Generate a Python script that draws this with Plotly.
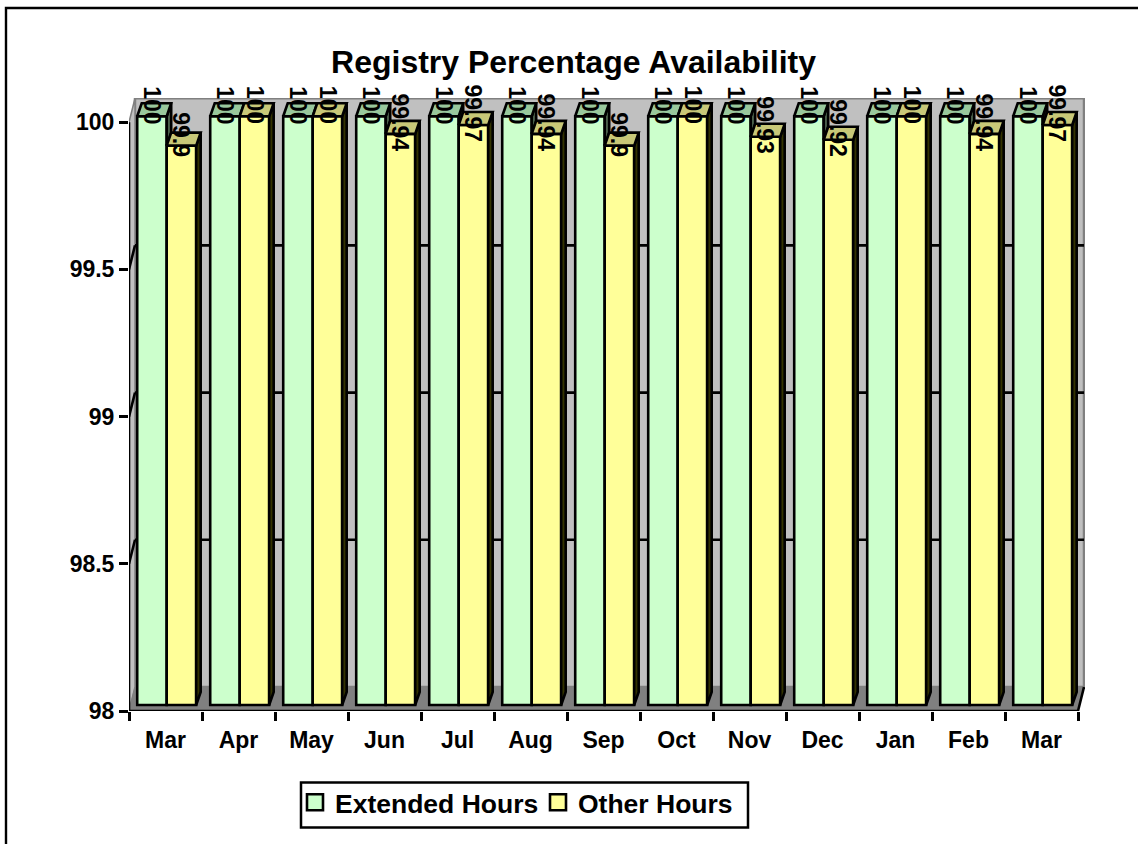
import plotly.graph_objects as go

months = ["Mar", "Apr", "May", "Jun", "Jul", "Aug", "Sep", "Oct", "Nov", "Dec", "Jan", "Feb", "Mar"]
extended_hours = [100, 100, 100, 100, 100, 100, 100, 100, 100, 100, 100, 100, 100]
other_hours = [99.9, 100, 100, 99.94, 99.97, 99.94, 99.9, 100, 99.93, 99.92, 100, 99.94, 99.97]
y_ticks = [98, 98.5, 99, 99.5, 100]

FONT = "Liberation Sans, Arial, sans-serif"
W, H = 1138, 844
L, R, T, B = 129, 1085, 98, 711
PX_X = 73.0          # pixels per category
PX_Y = 294.4         # pixels per y unit
Y0 = 98.0
XMAX = (R - L) / PX_X
YMAX = Y0 + (B - T) / PX_Y
N = len(months)

wall_dx, wall_dy = 6 / PX_X, 24 / PX_Y     # depth of the box
lift = 6 / PX_Y                            # bars stand part way into the floor
bar_dx, bar_dy = 4.5 / PX_X, 13 / PX_Y     # depth of each bar
shift = 1.2 / PX_X
bargap = 0.192
bar_w = (1 - bargap) / 2

LINE = 2.6
GREEN, YELLOW = "#CCFFCC", "#FFFF99"
GREEN_TOP, YELLOW_TOP = "#99C89C", "#C8C878"
GREEN_SIDE, YELLOW_SIDE = "#4A5F4A", "#333300"
WALL, EDGE = "#C0C0C0", "#808080"

centers = [i + 0.5 + shift for i in range(N)]
fig = go.Figure()

for name, vals, col, off in [("Extended Hours", extended_hours, GREEN, -bar_w / 2),
                             ("Other Hours", other_hours, YELLOW, bar_w / 2)]:
    fig.add_bar(x=[c + off for c in centers], y=[v - Y0 for v in vals], base=Y0 + lift,
                width=bar_w, name=name, customdata=vals, hovertemplate="%{customdata}<extra>" + name + "</extra>",
                legendgroup=name, showlegend=False,
                marker=dict(color=col, line=dict(color="black", width=LINE)))
    # legend swatch only: bar swatches have a fixed, smaller size
    fig.add_scatter(x=[None], y=[None], mode="markers", name=name, legendgroup=name, showlegend=True,
                    marker=dict(symbol="square", size=16, color=col, line=dict(color="black", width=LINE)))


def poly_trace(polys, color):
    xs, ys = [], []
    for p in polys:
        xs += [q[0] for q in p] + [p[0][0], None]
        ys += [q[1] for q in p] + [p[0][1], None]
    fig.add_scatter(x=xs, y=ys, mode="lines", fill="toself", fillcolor=color, showlegend=False,
                    hoverinfo="skip", line=dict(color="black", width=LINE, shape="linear"))


def top_face(xl, v):
    t = v + lift
    return [(xl, t), (xl + bar_dx, t + bar_dy), (xl + bar_w + bar_dx, t + bar_dy), (xl + bar_w, t)]


def side_face(xr, v, low):
    t, b = v + lift, low + lift
    return [(xr, t), (xr + bar_dx, t + bar_dy), (xr + bar_dx, b + bar_dy), (xr, b)]


green_sides = [side_face(c, g, o) for c, g, o in zip(centers, extended_hours, other_hours)]
green_tops = [top_face(c - bar_w, g) for c, g in zip(centers, extended_hours)]
yellow_sides = [side_face(c + bar_w, o, Y0) for c, o in zip(centers, other_hours)]
yellow_tops = [top_face(c, o) for c, o in zip(centers, other_hours)]
poly_trace(green_sides, GREEN_SIDE)
poly_trace(green_tops, GREEN_TOP)
poly_trace(yellow_sides, YELLOW_SIDE)
poly_trace(yellow_tops, YELLOW_TOP)

shapes = []


def poly_shape(pts, fill, color, width, layer="below"):
    path = "M" + " L".join(f"{x},{y}" for x, y in pts) + " Z"
    shapes.append(dict(type="path", path=path, xref="x", yref="y", fillcolor=fill,
                       line=dict(color=color, width=width), layer=layer))


def line_shape(x0, y0, x1, y1, color="black", width=LINE, layer="below"):
    shapes.append(dict(type="line", x0=x0, y0=y0, x1=x1, y1=y1, xref="x", yref="y",
                       line=dict(color=color, width=width), layer=layer))


def px_x(p):
    return (p - L) / (R - L)


def px_y(p):
    return (B - p) / (B - T)


# back wall, side wall, floor
top = y_ticks[-1]
poly_shape([(wall_dx, Y0 + wall_dy), (wall_dx, top + wall_dy), (N + wall_dx, top + wall_dy), (N + wall_dx, Y0 + wall_dy)],
           WALL, EDGE, 2.5)
poly_shape([(0, Y0), (0, top), (wall_dx, top + wall_dy), (wall_dx, Y0 + wall_dy)], WALL, EDGE, 1.5)
poly_shape([(0, Y0), (wall_dx, Y0 + wall_dy), (N + wall_dx, Y0 + wall_dy), (N, Y0)], EDGE, EDGE, 1)

# grid lines on the back wall and their returns on the side wall
for v in y_ticks[1:-1]:
    line_shape(wall_dx, v + wall_dy, N + wall_dx, v + wall_dy)
    line_shape(0, v, wall_dx, v + wall_dy)
line_shape(N, Y0, N + wall_dx, Y0 + wall_dy)

# axis lines
line_shape(0, Y0, 0, top, layer="above")
line_shape(0, Y0, N, Y0, layer="above")

# page frame
shapes.append(dict(type="path", xref="paper", yref="paper", layer="below", line=dict(color="black", width=2.4),
                   path=f"M {px_x(6)},{px_y(850)} L {px_x(6)},{px_y(8)} L {px_x(1145)},{px_y(8)}"))
# legend box
shapes.append(dict(type="rect", xref="paper", yref="paper", layer="below", fillcolor="white",
                   line=dict(color="black", width=2.5),
                   x0=px_x(301), x1=px_x(748), y0=px_y(827.5), y1=px_y(782.5)))

annotations = []
for c, g, o in zip(centers, extended_hours, other_hours):
    for xc, v in [(c - bar_w / 2, g), (c + bar_w / 2, o)]:
        annotations.append(dict(x=xc, y=v + lift, xref="x", yref="y", text=f"{v:g}", textangle=90, showarrow=False,
                                yshift=11, font=dict(family=FONT, size=23, color="black", weight=700)))

fig.update_layout(
    width=W, height=H, autosize=False,
    margin=dict(l=L, r=W - R, t=T, b=H - B, pad=0),
    paper_bgcolor="white", plot_bgcolor="rgba(0,0,0,0)",
    barmode="overlay", showlegend=True,
    title=dict(text="Registry Percentage Availability", x=573.5 / W, xref="container", xanchor="center",
               y=1 - 62 / H, yref="container", yanchor="middle",
               font=dict(family=FONT, size=32, color="black", weight=700)),
    legend=dict(orientation="h", x=px_x(295), y=px_y(778.5), xanchor="left", yanchor="top",
                bgcolor="rgba(0,0,0,0)", borderwidth=0, traceorder="normal",
                font=dict(family=FONT, size=26.5, color="black", weight=700), itemwidth=30,
                itemsizing="trace", entrywidth=198, entrywidthmode="pixels"),
    xaxis=dict(range=[0, XMAX], showgrid=False, zeroline=False, showline=False,
               tickmode="array", tickvals=[i + 0.5 for i in range(N)], ticktext=months,
               ticks="", ticklabelstandoff=13,
               tickfont=dict(family=FONT, size=23, color="black", weight=700),
               minor=dict(ticks="outside", ticklen=9, tickwidth=2.6, tickcolor="black", tick0=0, dtick=1, showgrid=False)),
    yaxis=dict(range=[Y0, YMAX], showgrid=False, zeroline=False, showline=False,
               tickmode="array", tickvals=y_ticks, ticktext=[f"{v:g}" for v in y_ticks],
               ticks="outside", ticklen=9, tickwidth=2.6, tickcolor="black", ticklabelstandoff=0,
               tickfont=dict(family=FONT, size=23, color="black", weight=700)),
    shapes=shapes, annotations=annotations,
)

fig.write_html("out.html", config={"displayModeBar": False}, post_script="document.body.style.margin='0';")
